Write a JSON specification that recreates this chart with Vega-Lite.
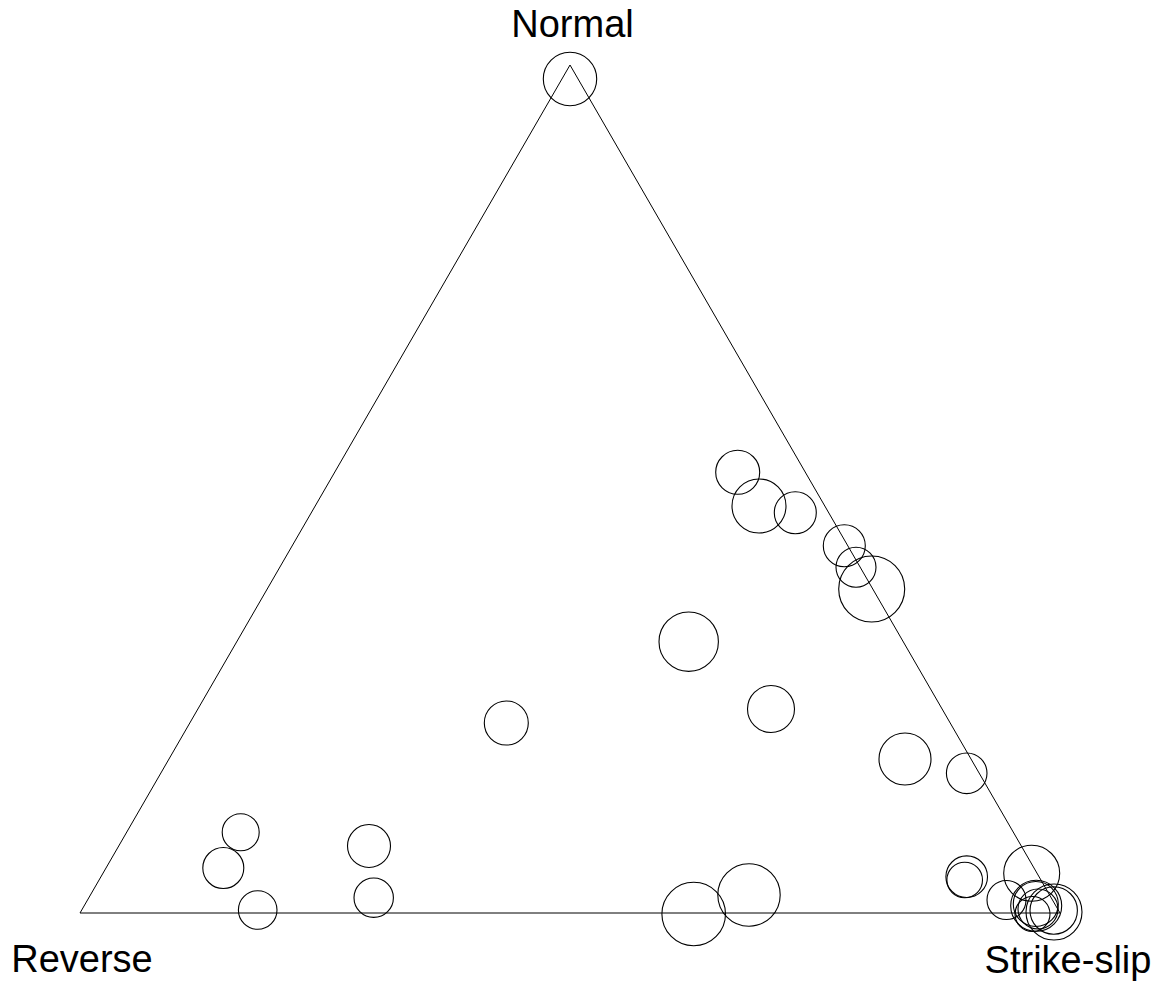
{
  "$schema": "https://vega.github.io/schema/vega-lite/v6.json",
  "width": 1162,
  "height": 991,
  "autosize": {"type": "none"},
  "padding": 0,
  "background": "white",
  "config": {"view": {"stroke": null}},
  "datasets": {
    "triangle": [
      {"order": 1, "x": 80, "y": 913},
      {"order": 2, "x": 570, "y": 65},
      {"order": 3, "x": 1060, "y": 913},
      {"order": 4, "x": 80, "y": 913}
    ],
    "events": [
      {"x": 570, "y": 79, "mag": 26.7},
      {"x": 737.7, "y": 472.3, "mag": 22},
      {"x": 759, "y": 506, "mag": 27},
      {"x": 795.3, "y": 512.7, "mag": 21},
      {"x": 844.3, "y": 545.7, "mag": 21},
      {"x": 856, "y": 567.3, "mag": 20},
      {"x": 871.7, "y": 589, "mag": 33},
      {"x": 688.7, "y": 641.7, "mag": 29.7},
      {"x": 771, "y": 709, "mag": 23.5},
      {"x": 905, "y": 759, "mag": 26},
      {"x": 966.7, "y": 773.3, "mag": 20.3},
      {"x": 506.3, "y": 723, "mag": 22},
      {"x": 240.7, "y": 832.3, "mag": 18.5},
      {"x": 223.3, "y": 868, "mag": 20.5},
      {"x": 257.7, "y": 910, "mag": 19.3},
      {"x": 369, "y": 846, "mag": 21.5},
      {"x": 373.7, "y": 897.7, "mag": 19.7},
      {"x": 693.7, "y": 914, "mag": 31.8},
      {"x": 749, "y": 895, "mag": 31.2},
      {"x": 966.7, "y": 876.7, "mag": 20.8},
      {"x": 964.7, "y": 880, "mag": 17.8},
      {"x": 1031.7, "y": 873.3, "mag": 28},
      {"x": 1006.5, "y": 900, "mag": 19.5},
      {"x": 1036.2, "y": 905.8, "mag": 25.5},
      {"x": 1035.8, "y": 904, "mag": 22.5},
      {"x": 1054, "y": 912, "mag": 28},
      {"x": 1053.7, "y": 910.5, "mag": 23.7},
      {"x": 1032.5, "y": 914, "mag": 17.5},
      {"x": 1038, "y": 909, "mag": 20}
    ],
    "labels": [
      {"label": "Normal", "x": 572.5, "y": 37},
      {"label": "Reverse", "x": 82, "y": 972},
      {"label": "Strike-slip", "x": 1068, "y": 973}
    ]
  },
  "layer": [
    {
      "data": {"name": "triangle"},
      "mark": {"type": "line", "color": "black", "strokeWidth": 1, "interpolate": "linear"},
      "encoding": {
        "x": {"field": "x", "type": "quantitative", "scale": {"domain": [0, 1162], "nice": false, "zero": false}, "axis": null},
        "y": {"field": "y", "type": "quantitative", "scale": {"domain": [0, 991], "nice": false, "zero": false, "reverse": true}, "axis": null},
        "order": {"field": "order", "type": "quantitative"}
      }
    },
    {
      "data": {"name": "events"},
      "mark": {"type": "point", "shape": "circle", "filled": false, "stroke": "black", "strokeWidth": 1.1, "opacity": 1},
      "encoding": {
        "x": {"field": "x", "type": "quantitative", "scale": {"domain": [0, 1162], "nice": false, "zero": false}, "axis": null},
        "y": {"field": "y", "type": "quantitative", "scale": {"domain": [0, 991], "nice": false, "zero": false, "reverse": true}, "axis": null},
        "size": {"field": "mag", "type": "quantitative", "scale": {"type": "pow", "exponent": 2, "domain": [0, 40], "range": [0, 6400]}, "legend": null}
      }
    },
    {
      "data": {"name": "labels"},
      "mark": {"type": "text", "font": "Liberation Sans", "fontSize": 38, "align": "center", "baseline": "alphabetic", "color": "black"},
      "encoding": {
        "x": {"field": "x", "type": "quantitative", "scale": {"domain": [0, 1162], "nice": false, "zero": false}, "axis": null},
        "y": {"field": "y", "type": "quantitative", "scale": {"domain": [0, 991], "nice": false, "zero": false, "reverse": true}, "axis": null},
        "text": {"field": "label", "type": "nominal"}
      }
    }
  ]
}
